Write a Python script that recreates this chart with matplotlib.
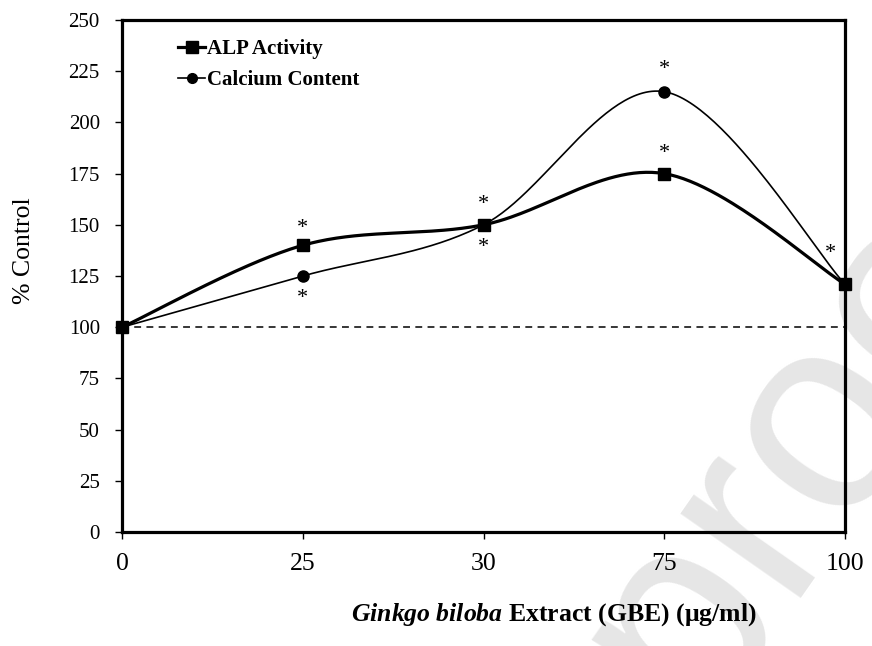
import numpy as np
import matplotlib
matplotlib.use('Agg')
import matplotlib.pyplot as plt
from matplotlib.lines import Line2D

plt.rcParams['font.family'] = ['Liberation Serif', 'DejaVu Serif']
plt.rcParams['mathtext.fontset'] = 'custom'
plt.rcParams['mathtext.rm'] = 'Liberation Serif'
plt.rcParams['mathtext.it'] = 'Liberation Serif:italic'
plt.rcParams['mathtext.bf'] = 'Liberation Serif:bold'
plt.rcParams['mathtext.bfit'] = 'Liberation Serif:italic:bold'

# data
doses = ['0', '25', '30', '75', '100']
alp_activity = [100, 140, 150, 175, 121]
calcium_content = [100, 125, 150, 215, 121]
y_ticks = [0, 25, 50, 75, 100, 125, 150, 175, 200, 225, 250]
# significance marks (category index, y position)
star_x = [1, 1, 2, 2, 3, 3, 3.92]
star_y = [148, 114, 160, 139, 185, 226, 136]


def smooth(xs, ys, n=60):
    # excel-style smoothed line: cubic bezier through the points
    xs = np.asarray(xs, float)
    ys = np.asarray(ys, float)
    px = np.concatenate([[xs[0]], xs, [xs[-1]]])
    py = np.concatenate([[ys[0]], ys, [ys[-1]]])
    out_x, out_y = [], []
    t = np.linspace(0, 1, n)
    for i in range(len(xs) - 1):
        p0 = np.array([xs[i], ys[i]])
        p3 = np.array([xs[i + 1], ys[i + 1]])
        p1 = p0 + (np.array([px[i + 2], py[i + 2]]) - np.array([px[i], py[i]])) / 6
        p2 = p3 - (np.array([px[i + 3], py[i + 3]]) - np.array([px[i + 1], py[i + 1]])) / 6
        b = ((1 - t) ** 3)[:, None] * p0 + (3 * (1 - t) ** 2 * t)[:, None] * p1 \
            + (3 * (1 - t) * t ** 2)[:, None] * p2 + (t ** 3)[:, None] * p3
        out_x.extend(b[:, 0])
        out_y.extend(b[:, 1])
    return out_x, out_y


fig = plt.figure(figsize=(8.72, 6.46), dpi=100)
ax = fig.add_axes([0.140, 0.1765, 0.829, 0.7925])
ax.set_facecolor('none')

# watermark
fig.text(0.796, -0.122, 'proof', family='Liberation Sans', fontsize=200,
         color='#e6e6e6', rotation=55, rotation_mode='anchor',
         ha='left', va='baseline', zorder=-1)

xpos = np.arange(len(doses))

ax.axhline(100, color='black', lw=1.1, ls=(0, (4.5, 3.5)), zorder=1)

sx, sy = smooth(xpos, calcium_content)
ax.plot(sx, sy, color='black', lw=1.2, zorder=2, clip_on=False)
ax.plot(xpos, calcium_content, 'o', color='black', ms=8, zorder=3, clip_on=False)

sx, sy = smooth(xpos, alp_activity)
ax.plot(sx, sy, color='black', lw=2.3, zorder=2, clip_on=False)
ax.plot(xpos, alp_activity, 's', color='black', ms=9, zorder=4, clip_on=False)

for x, y in zip(star_x, star_y):
    ax.text(x, y, '*', ha='center', va='center', fontsize=16)

ax.set_xlim(0, 4)
ax.set_ylim(0, 250)
ax.set_xticks(xpos)
ax.set_xticklabels(doses)
ax.set_yticks(y_ticks)
ax.tick_params(direction='out', length=5, width=1)
ax.tick_params(axis='y', labelsize=15, pad=11)
ax.tick_params(axis='x', labelsize=18.5, pad=10)
for s in ax.spines.values():
    s.set_linewidth(2.3)

ax.set_ylabel('% Control', fontsize=18.5)
ax.yaxis.set_label_coords(-0.12, 0.55)
ax.set_xlabel(r'$\mathbfit{Ginkgo\ biloba}$ Extract (GBE) (μg/ml)', fontsize=18.5,
              fontweight='bold')
ax.xaxis.set_label_coords(0.597, -0.135)

handles = [Line2D([], [], color='black', lw=2.3, marker='s', ms=8),
           Line2D([], [], color='black', lw=1.2, marker='o', ms=7)]
leg = ax.legend(handles, ['ALP Activity', 'Calcium Content'], loc='upper left',
                bbox_to_anchor=(0.0775, 0.962), frameon=False, borderpad=0,
                borderaxespad=0, handlelength=1.3, handletextpad=0.1,
                labelspacing=0.5, prop={'weight': 'bold', 'size': 15})

fig.savefig('out.png', dpi=100)
